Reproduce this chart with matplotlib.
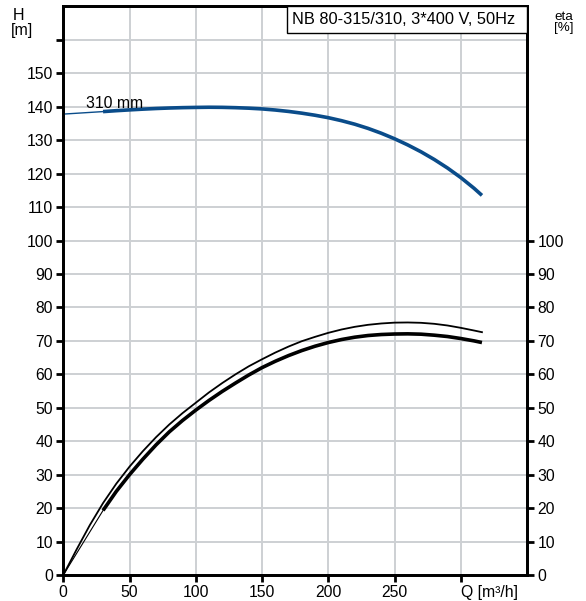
import matplotlib
matplotlib.use('Agg')
import matplotlib.pyplot as plt
from matplotlib.patches import Rectangle

plt.rcParams['font.family'] = ['Liberation Sans', 'DejaVu Sans']
plt.rcParams['font.size'] = 11.3

# head curve, 310 mm impeller (first 4 points = thin extrapolated part)
q_head = [0, 10, 20, 30, 40, 50, 60, 70, 80, 90, 100, 110, 120, 130, 140, 150, 160, 170, 180,
          190, 200, 210, 220, 230, 240, 250, 260, 270, 280, 290, 300, 310, 316]
head = [137.8, 138.05, 138.3, 138.55, 138.82, 139.06, 139.28, 139.47, 139.62, 139.73, 139.8,
        139.85, 139.82, 139.72, 139.57, 139.35, 139.02, 138.6, 138.08, 137.46, 136.73, 135.83,
        134.78, 133.53, 132.08, 130.43, 128.58, 126.53, 124.23, 121.68, 118.83, 115.63, 113.5]

# efficiency curves
q_eta_top = [0, 10, 20, 30, 40, 50, 60, 70, 80, 90, 100, 110, 120, 130, 140, 150, 160, 170, 180,
             190, 200, 210, 220, 230, 240, 250, 260, 270, 280, 290, 300, 310, 316]
eta_top = [0, 7.6, 14.9, 21.5, 27.3, 32.4, 37.0, 41.2, 45.0, 48.4, 51.5, 54.6, 57.4, 60.0,
           62.4, 64.5, 66.5, 68.3, 69.9, 71.2, 72.4, 73.4, 74.2, 74.8, 75.2, 75.45, 75.5, 75.4,
           75.1, 74.6, 73.9, 73.1, 72.6]

q_eta = [0, 30, 40, 50, 60, 70, 80, 90, 100, 110, 120, 130, 140, 150, 160, 170, 180, 190, 200,
         210, 220, 230, 240, 250, 260, 270, 280, 290, 300, 310, 316]
eta = [0, 19.3, 25.0, 30.0, 34.6, 38.9, 42.8, 46.2, 49.3, 52.2, 54.9, 57.4, 59.8, 62.0, 63.9,
       65.6, 67.1, 68.4, 69.5, 70.4, 71.1, 71.6, 71.9, 72.05, 72.1, 72.0, 71.7, 71.3, 70.7,
       70.0, 69.5]

x_ticks = [0, 50, 100, 150, 200, 250, 300]
x_labels = ['0', '50', '100', '150', '200', '250', 'Q [m³/h]']
h_ticks = list(range(0, 170, 10))
eta_ticks = list(range(0, 110, 10))

title = 'NB 80-315/310, 3*400 V, 50Hz'
blue = '#0a4c8a'
W, H = 586, 601

fig = plt.figure(figsize=(5.86, 6.01), dpi=100)
ax = fig.add_axes([63.3 / W, 1 - 575 / H, (527 - 63.3) / W, (575 - 6.4) / H])
ax.set_xlim(0, 350)
ax.set_ylim(0, 170)

# grid
ax.set_xticks(x_ticks)
ax.set_xticklabels(x_labels)
ax.set_yticks(h_ticks)
ax.set_yticklabels([str(v) if v <= 150 else '' for v in h_ticks])
ax.yaxis.get_major_ticks()[-1].tick1line.set_visible(False)
ax.grid(True, color='#cdd0d3', lw=1.4, zorder=0)

for s in ax.spines.values():
    s.set_linewidth(2)
ax.tick_params(direction='out', length=5, width=2, pad=2.5, labelsize=11.3)
xl = ax.get_xticklabels()[-1]
xl.set_ha('left')
xl.set_x(297.5)

# head
ax.plot(q_head[:4], head[:4], color=blue, lw=1.0, zorder=3)
ax.plot(q_head[3:], head[3:], color=blue, lw=2.6, solid_capstyle='butt', zorder=3)
ax.text(17.5, 139.6, '310 mm', fontsize=11.3, va='baseline', ha='left', zorder=4)

# efficiency
ax.plot(q_eta_top, eta_top, color='black', lw=1.3, zorder=3)
ax.plot(q_eta[:2], eta[:2], color='black', lw=0.8, zorder=3)
ax.plot(q_eta[1:], eta[1:], color='black', lw=2.6, solid_capstyle='butt', zorder=3)

# right axis
ax2 = ax.twinx()
ax2.set_ylim(0, 170)
ax2.set_yticks(eta_ticks)
ax2.tick_params(direction='out', length=5, width=2, pad=2.5, labelsize=11.3)
for s in ax2.spines.values():
    s.set_linewidth(2)

# axis titles
fig.text(13 / W, 1 - 20 / H, 'H', ha='left', va='baseline', fontsize=11.5)
fig.text(11 / W, 1 - 35.5 / H, '[m]', ha='left', va='baseline', fontsize=11.5)
fig.text(554 / W, 1 - 19.5 / H, 'eta', ha='left', va='baseline', fontsize=9.6)
fig.text(554 / W, 1 - 31.5 / H, '[%]', ha='left', va='baseline', fontsize=9.6)

# title box
fig.add_artist(Rectangle((287 / W, 1 - 33 / H), (527 - 287) / W, 27 / H,
                         transform=fig.transFigure, fc='white', ec='black', lw=1, zorder=5))
fig.text(292 / W, 1 - 19.5 / H, title, ha='left', va='center', fontsize=11.8, zorder=6)

fig.savefig('out.png', dpi=100)
